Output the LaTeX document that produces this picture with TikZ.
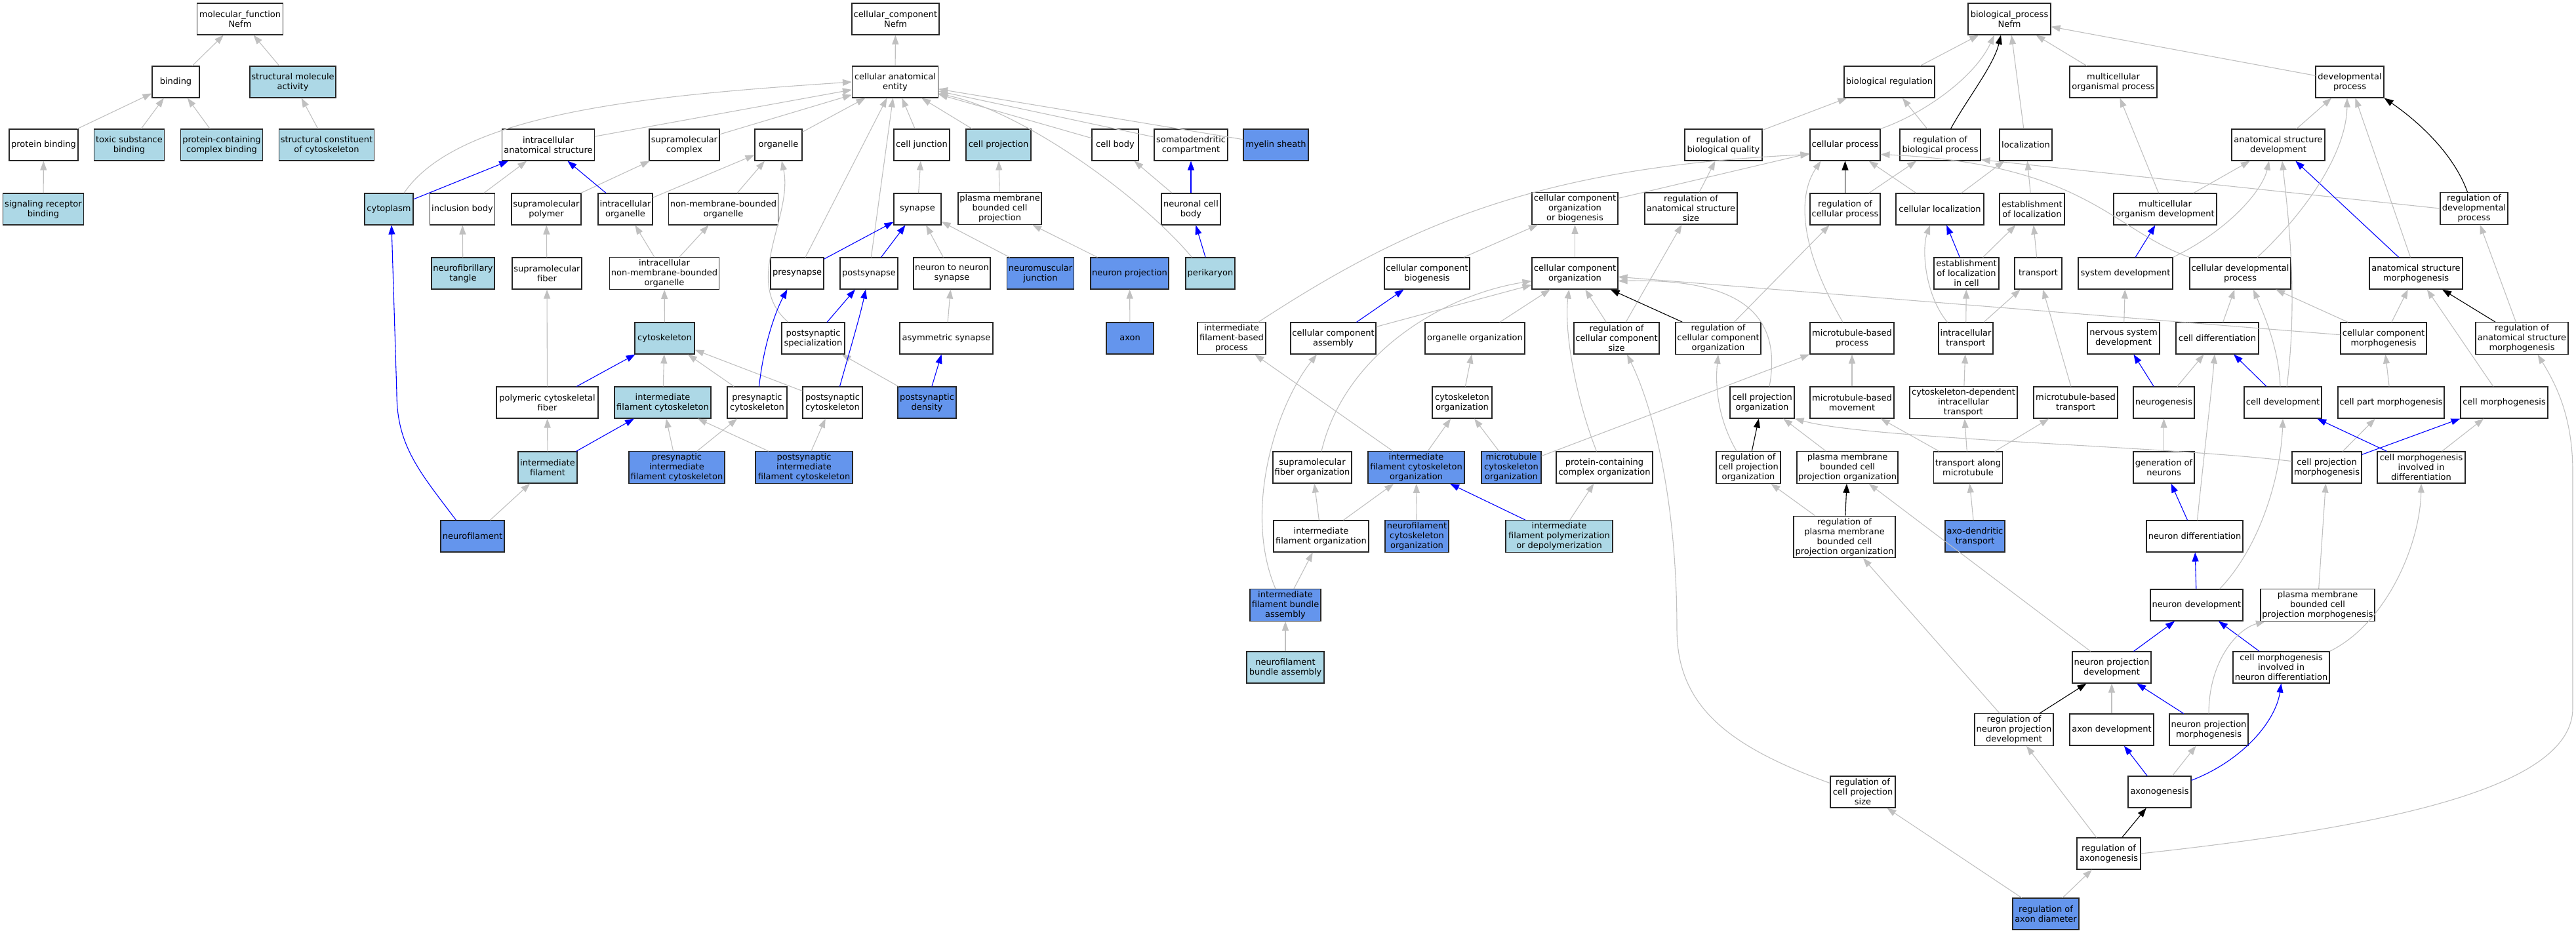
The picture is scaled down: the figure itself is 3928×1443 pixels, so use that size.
\documentclass[tikz,border=0pt]{standalone}
\usepackage{fontspec}
\setmainfont{DejaVu Sans}
\usetikzlibrary{arrows.meta}
\definecolor{hitblue}{RGB}{173,216,230}
\definecolor{seedblue}{RGB}{100,149,237}
\definecolor{linkgray}{RGB}{192,192,192}

\begin{document}
\begin{tikzpicture}[
	x=1pt, y=-1pt,
	term/.style={
		rectangle,
		draw=black!85,
		line width=1.1pt,
		fill=white,
		align=center,
		minimum height=48pt,
		inner xsep=2pt,
		inner ysep=3pt,
		font=\fontsize{13pt}{15pt}\selectfont
	},
	hit/.style={term, fill=hitblue},
	seed/.style={term, fill=seedblue},
	wd/.style={minimum width=#1},
	isa/.style={color=linkgray, line width=1.1pt, -{Triangle[length=14pt, width=10pt]}},
	part/.style={isa, color=blue},
	reg/.style={isa, color=black}]

\useasboundingbox (0,0) rectangle (3928,1443);

% molecular function
\node[term, wd=131] (mf) at (366,29) {molecular\_function\\Nefm};
\node[term, wd=72] (bind) at (268,125) {binding};
\node[hit, wd=131] (sma) at (446.5,125) {structural molecule\\activity};
\node[term, wd=105] (pb) at (66.5,221) {protein binding};
\node[hit, wd=107] (tsb) at (197,221) {toxic substance\\binding};
\node[hit, wd=125] (pccb) at (338,221) {protein-containing\\complex binding};
\node[hit, wd=145] (scc) at (498,221) {structural constituent\\of cytoskeleton};
\node[hit, wd=123] (srb) at (66,319) {signaling receptor\\binding};

% cellular component
\node[term, wd=133] (cc) at (1365.5,29) {cellular\_component\\Nefm};
\node[term, wd=131] (cae) at (1365,125) {cellular anatomical\\entity};
\node[term, wd=141] (ias) at (836,221) {intracellular\\anatomical structure};
\node[term, wd=107] (smc) at (1043.5,221) {supramolecular\\complex};
\node[term, wd=72] (org) at (1187,221) {organelle};
\node[term, wd=85] (cj) at (1405.5,221) {cell junction};
\node[hit, wd=99] (cp) at (1522.5,221) {cell projection};
\node[term, wd=71] (cb) at (1700.5,221) {cell body};
\node[term, wd=112] (sdc) at (1816,221) {somatodendritic\\compartment};
\node[seed, wd=99] (ms) at (1945.5,221) {myelin sheath};
\node[hit, wd=74] (cyt) at (593,319) {cytoplasm};
\node[term, wd=99] (ib) at (705,319) {inclusion body};
\node[term, wd=106] (smp) at (833,319) {supramolecular\\polymer};
\node[term, wd=83] (io) at (953.5,319) {intracellular\\organelle};
\node[term, wd=166] (nmbo) at (1103,319) {non-membrane-bounded\\organelle};
\node[term, wd=72] (syn) at (1399,319) {synapse};
\node[term, wd=127] (pmbcp) at (1524.5,318) {plasma membrane\\bounded cell\\projection};
\node[term, wd=90] (ncb) at (1816,319) {neuronal cell\\body};
\node[hit, wd=96] (nft) at (706,417) {neurofibrillary\\tangle};
\node[term, wd=106] (smf) at (834,417) {supramolecular\\fiber};
\node[term, wd=166] (inmbo) at (1013,417) {intracellular\\non-membrane-bounded\\organelle};
\node[term, wd=81] (pre) at (1215.5,417) {presynapse};
\node[term, wd=88] (post) at (1325,417) {postsynapse};
\node[term, wd=117] (nns) at (1451.5,417) {neuron to neuron\\synapse};
\node[seed, wd=101] (nmj) at (1586.5,417) {neuromuscular\\junction};
\node[seed, wd=119] (np) at (1722.5,417) {neuron projection};
\node[hit, wd=75] (peri) at (1845.5,417) {perikaryon};
\node[hit, wd=91] (csk) at (1013.5,516) {cytoskeleton};
\node[term, wd=96] (pss) at (1240,516) {postsynaptic\\specialization};
\node[term, wd=142] (asyn) at (1443,516) {asymmetric synapse};
\node[seed, wd=72] (axon) at (1723,516) {axon};
\node[term, wd=155] (pcf) at (834.5,614) {polymeric cytoskeletal\\fiber};
\node[hit, wd=147] (ifc) at (1010.5,614) {intermediate\\filament cytoskeleton};
\node[term, wd=91] (prec) at (1154.5,614) {presynaptic\\cytoskeleton};
\node[term, wd=91] (postc) at (1269.5,614) {postsynaptic\\cytoskeleton};
\node[seed, wd=89] (psd) at (1413.5,614) {postsynaptic\\density};
\node[hit, wd=90] (ifil) at (835,713) {intermediate\\filament};
\node[seed, wd=146] (preifc) at (1032,713) {presynaptic\\intermediate\\filament cytoskeleton};
\node[seed, wd=148] (postifc) at (1226,713) {postsynaptic\\intermediate\\filament cytoskeleton};
\node[seed, wd=97] (nf) at (720.5,818) {neurofilament};

% biological process
\node[term, wd=126] (bp) at (3064,29) {biological\_process\\Nefm};
\node[term, wd=138] (breg) at (2881,125) {biological regulation};
\node[term, wd=133] (mop) at (3222.5,125) {multicellular\\organismal process};
\node[term, wd=104] (dp) at (3583,125) {developmental\\process};
\node[term, wd=118] (rbq) at (2628,221) {regulation of\\biological quality};
\node[term, wd=107] (cpr) at (2813.5,221) {cellular process};
\node[term, wd=123] (rbp) at (2958.5,221) {regulation of\\biological process};
\node[term, wd=80] (loc) at (3089,221) {localization};
\node[term, wd=142] (asd) at (3474,221) {anatomical structure\\development};
\node[term, wd=131] (ccob) at (2401.5,318) {cellular component\\organization\\or biogenesis};
\node[term, wd=141] (rass) at (2578.5,318) {regulation of\\anatomical structure\\size};
\node[term, wd=107] (rcp) at (2813.5,319) {regulation of\\cellular process};
\node[term, wd=134] (cloc) at (2958,319) {cellular localization};
\node[term, wd=99] (eloc) at (3098.5,319) {establishment\\of localization};
\node[term, wd=157] (mod) at (3301.5,319) {multicellular\\organism development};
\node[term, wd=103] (rdp) at (3772.5,318) {regulation of\\developmental\\process};
\node[term, wd=130] (ccb) at (2176,417) {cellular component\\biogenesis};
\node[term, wd=131] (cco) at (2401.5,417) {cellular component\\organization};
\node[term, wd=99] (elc) at (2998.5,417) {establishment\\of localization\\in cell};
\node[term, wd=72] (trans) at (3108,417) {transport};
\node[term, wd=144] (sd) at (3241,417) {system development};
\node[term, wd=154] (cdp) at (3416,417) {cellular developmental\\process};
\node[term, wd=142] (asm) at (3684,417) {anatomical structure\\morphogenesis};
\node[term, wd=104] (ifbp) at (1878,516) {intermediate\\filament-based\\process};
\node[term, wd=130] (cca) at (2033,516) {cellular component\\assembly};
\node[term, wd=152] (oo) at (2249,516) {organelle organization};
\node[term, wd=130] (rccs) at (2465,516) {regulation of\\cellular component\\size};
\node[term, wd=130] (rcco) at (2620,516) {regulation of\\cellular component\\organization};
\node[term, wd=128] (mbp) at (2824,516) {microtubule-based\\process};
\node[term, wd=83] (itr) at (2997.5,516) {intracellular\\transport};
\node[term, wd=110] (nsd) at (3238,516) {nervous system\\development};
\node[term, wd=126] (cdiff) at (3381,516) {cell differentiation};
\node[term, wd=131] (ccm) at (3634.5,516) {cellular component\\morphogenesis};
\node[term, wd=141] (rasm) at (3845.5,516) {regulation of\\anatomical structure\\morphogenesis};
\node[term, wd=91] (co) at (2229.5,614) {cytoskeleton\\organization};
\node[term, wd=98] (cpo) at (2687,614) {cell projection\\organization};
\node[term, wd=128] (mbm) at (2824,614) {microtubule-based\\movement};
\node[term, wd=164] (cdit) at (2994,614) {cytoskeleton-dependent\\intracellular\\transport};
\node[term, wd=128] (mbt) at (3165,614) {microtubule-based\\transport};
\node[term, wd=93] (ngen) at (3299.5,614) {neurogenesis};
\node[term, wd=118] (cdev) at (3481,614) {cell development};
\node[term, wd=162] (cpm) at (3646,614) {cell part morphogenesis};
\node[term, wd=133] (cmorph) at (3818.5,614) {cell morphogenesis};
\node[term, wd=120] (sfo) at (2001,713) {supramolecular\\fiber organization};
\node[seed, wd=147] (ifco) at (2159.5,713) {intermediate\\filament cytoskeleton\\organization};
\node[seed, wd=91] (mco) at (2304.5,713) {microtubule\\cytoskeleton\\organization};
\node[term, wd=147] (pcco) at (2446.5,713) {protein-containing\\complex organization};
\node[term, wd=98] (rcpo) at (2666,713) {regulation of\\cell projection\\organization};
\node[term, wd=154] (pmbcpo) at (2817,713) {plasma membrane\\bounded cell\\projection organization};
\node[term, wd=104] (tam) at (3001,713) {transport along\\microtubule};
\node[term, wd=93] (gon) at (3299.5,713) {generation of\\neurons};
\node[term, wd=106] (cprm) at (3548,713) {cell projection\\morphogenesis};
\node[term, wd=134] (cmid) at (3692,713) {cell morphogenesis\\involved in\\differentiation};
\node[term, wd=145] (ifo) at (2014.5,818) {intermediate\\filament organization};
\node[seed, wd=97] (nfco) at (2160.5,818) {neurofilament\\cytoskeleton\\organization};
\node[hit, wd=163] (ifpd) at (2377.5,818) {intermediate\\filament polymerization\\or depolymerization};
\node[term, wd=155] (rpmbcpo) at (2812.5,819) {regulation of\\plasma membrane\\bounded cell\\projection organization};
\node[seed, wd=91] (adt) at (3011.5,818) {axo-dendritic\\transport};
\node[term, wd=147] (nd) at (3346.5,818) {neuron differentiation};
\node[seed, wd=108] (ifba) at (1960,923) {intermediate\\filament bundle\\assembly};
\node[term, wd=141] (ndev) at (3349.5,923) {neuron development};
\node[term, wd=174] (pmbcpm) at (3534,923) {plasma membrane\\bounded cell\\projection morphogenesis};
\node[hit, wd=118] (nfba) at (1960,1018) {neurofilament\\bundle assembly};
\node[term, wd=120] (npd) at (3220,1018) {neuron projection\\development};
\node[term, wd=147] (cmind) at (3478.5,1018) {cell morphogenesis\\involved in\\neuron differentiation};
\node[term, wd=120] (rnpd) at (3071,1113) {regulation of\\neuron projection\\development};
\node[term, wd=128] (ad) at (3220,1113) {axon development};
\node[term, wd=120] (npm) at (3368,1113) {neuron projection\\morphogenesis};
\node[term, wd=99] (rcps) at (2840.5,1208) {regulation of\\cell projection\\size};
\node[term, wd=96] (axg) at (3293,1208) {axonogenesis};
\node[term, wd=97] (rax) at (3215.5,1302) {regulation of\\axonogenesis};
\node[seed, wd=101] (rad) at (3119.5,1394) {regulation of\\axon diameter};

\path[isa]
	(bind) edge (mf)
	(sma) edge (mf)
	(pb) edge (bind)
	(tsb) edge (bind)
	(pccb) edge (bind)
	(scc) edge (sma)
	(srb) edge (pb)
	(cae) edge (cc)
	(ias) edge (cae)
	(smc) edge (cae)
	(org) edge (cae)
	(cj) edge (cae)
	(cp) edge (cae)
	(cb) edge (cae)
	(sdc) edge (cae)
	(ms) edge (cae)
	(pre) edge (cae)
	(post) edge (cae)
	(ib) edge (ias)
	(smp) edge (smc)
	(io) edge (org)
	(nft) edge (ib)
	(smf) edge (smp)
	(inmbo) edge (io)
	(inmbo) edge (nmbo)
	(nmbo) edge (org)
	(csk) edge (inmbo)
	(pcf) edge (smf)
	(ifc) edge (csk)
	(prec) edge (csk)
	(postc) edge (csk)
	(ifil) edge (pcf)
	(nf) edge (ifil)
	(preifc) edge (ifc)
	(preifc) edge (prec)
	(postifc) edge (ifc)
	(postifc) edge (postc)
	(nns) edge (syn)
	(nmj) edge (syn)
	(syn) edge (cj)
	(asyn) edge (nns)
	(psd) edge (pss)
	(pmbcp) edge (cp)
	(np) edge (pmbcp)
	(ncb) edge (cb)
	(axon) edge (np);

\path[part]
	(cyt) edge (ias)
	(io) edge (ias)
	(pcf) edge (csk)
	(ifil) edge (ifc)
	(pss) edge (post)
	(pre) edge (syn)
	(post) edge (syn)
	(psd) edge (asyn)
	(ncb) edge (sdc)
	(peri) edge (ncb);

\draw[isa] ([xshift=23pt]cyt.north) .. controls (700,170) and (1000,145) .. (cae.west);
\draw[isa] ([xshift=-28pt]peri.north) .. controls (1740,300) and (1560,170) .. (cae.-15);
\draw[isa] ([xshift=-38pt]pss.north) .. controls (1130,430) and (1210,330) .. ([xshift=5pt]org.south);
\draw[part] ([xshift=-25pt]nf.north) .. controls (640,720) and (605,680) .. (605,600) -- ([xshift=4pt]cyt.south);
\draw[part] ([xshift=3pt]prec.north) .. controls (1165,520) and (1185,470) .. ([xshift=-15pt]pre.south);
\draw[part] ([xshift=11pt]postc.north) .. controls (1300,520) and (1312,480) .. ([xshift=-5pt]post.south);

\path[isa]
	(breg) edge (bp)
	(mop) edge (bp)
	(dp) edge (bp)
	(loc) edge (bp)
	(rbp) edge (breg)
	(rbq) edge (breg)
	(rcp) edge (rbp)
	(cloc) edge (cpr)
	(cloc) edge (loc)
	(eloc) edge (loc)
	(rass) edge (rbq)
	(ccob) edge (cpr)
	(ccb) edge (ccob)
	(cco) edge (ccob)
	(cca) edge (cco)
	(oo) edge (cco)
	(rccs) edge (cco)
	(rccs) edge (rass)
	(rcco) edge (rcp)
	(co) edge (oo)
	(mco) edge (co)
	(ifco) edge (co)
	(mco) edge (mbp)
	(ifco) edge (ifbp)
	(ifo) edge (sfo)
	(ifo) edge (ifco)
	(nfco) edge (ifco)
	(ifpd) edge (pcco)
	(ifba) edge (ifo)
	(nfba) edge (ifba)
	(rad) edge (rcps)
	(rad) edge (rax)
	(rax) edge (rnpd)
	(pmbcpo) edge (cpo)
	(rpmbcpo) edge (rcpo)
	(npd) edge (pmbcpo)
	(rnpd) edge (rpmbcpo)
	(mbm) edge (mbp)
	(tam) edge (mbm)
	(tam) edge (cdit)
	(tam) edge (mbt)
	(adt) edge (tam)
	(elc) edge (eloc)
	(trans) edge (eloc)
	(itr) edge (elc)
	(itr) edge (trans)
	(cdit) edge (itr)
	(mbt) edge (trans)
	(mod) edge (mop)
	(mod) edge (asd)
	(asd) edge (dp)
	(asm) edge (dp)
	(nsd) edge (sd)
	(ngen) edge (cdiff)
	(gon) edge (ngen)
	(cdiff) edge (cdp)
	(ccm) edge (cdp)
	(ccm) edge (asm)
	(cmorph) edge (asm)
	(rasm) edge (rdp)
	(ccm) edge (cco)
	(cpm) edge (ccm)
	(cprm) edge (cpm)
	(cmid) edge (cmorph)
	(pmbcpm) edge (cprm)
	(ad) edge (npd)
	(axg) edge (npm)
	(rdp.west) edge (rbp.-20);

\path[part]
	(cca) edge (ccb)
	(ifpd) edge (ifco)
	(elc) edge (cloc)
	(sd) edge (mod)
	(asm) edge (asd)
	(ngen) edge (nsd)
	(nd) edge (gon)
	(cdev) edge (cdiff)
	(cprm) edge (cmorph)
	(cmid) edge (cdev)
	(ndev) edge (nd)
	(npd) edge (ndev)
	(cmind) edge (ndev)
	(npm) edge (npd)
	(axg) edge (ad);

\path[reg]
	(rcp) edge (cpr)
	(rcco) edge (cco)
	(rcpo) edge (cpo)
	(rpmbcpo) edge (pmbcpo)
	(rasm) edge (asm)
	(rnpd) edge (npd)
	(rax) edge (axg);

\draw[isa] ([xshift=41pt]ifbp.north) .. controls (2150,340) and (2350,255) .. (cpr.195);
\draw[isa] ([xshift=14pt]sfo.north) .. controls (2050,540) and (2200,450) .. (cco.190);
\draw[isa] ([xshift=-15pt]ifba.north) .. controls (1895,780) and (1945,620) .. ([xshift=-25pt]cca.south);
\draw[isa] ([xshift=-12pt]pcco.north) .. controls (2400,600) and (2385,500) .. ([xshift=-9pt]cco.south);
\draw[isa] ([xshift=11pt]cpo.north) .. controls (2720,470) and (2640,425) .. (cco.-10);
\draw[isa] ([xshift=-14pt]mbp.north) .. controls (2745,380) and (2740,300) .. ([xshift=-37pt]cpr.south);
\draw[isa] ([xshift=-18pt]rcpo.north) .. controls (2620,640) and (2615,590) .. (rcco.south);
\draw[isa] (rcps.165) .. controls (2640,1140) and (2557,1080) .. (2557,960) .. controls (2557,760) and (2520,620) .. ([xshift=16pt]rccs.south);
\draw[isa] ([xshift=-28pt]itr.north) .. controls (2935,450) and (2930,380) .. ([xshift=-15pt]cloc.south);
\draw[isa] (cpr.north east) .. controls (2930,175) and (3010,120) .. ([xshift=-23pt]bp.south);
\draw[reg] ([xshift=16pt]rbp.north) .. controls (3000,150) and (3040,100) .. ([xshift=-13pt]bp.south);
\draw[isa] (cdp.north west) .. controls (3220,350) and (3180,250) .. (cpr.-15);
\draw[isa] (cprm.170) .. controls (3300,680) and (2850,670) .. (cpo.south east);
\draw[isa] ([xshift=35pt]ndev.north) .. controls (3450,830) and (3478,720) .. (cdev.south);
\draw[isa] ([xshift=4pt]nd.north) .. controls (3360,700) and (3372,600) .. ([xshift=-4pt]cdiff.south);
\draw[isa] ([xshift=-4pt]cdev.north) .. controls (3475,530) and (3450,475) .. ([xshift=20pt]cdp.south);
\draw[isa] ([xshift=6pt]cdev.north) .. controls (3505,450) and (3488,320) .. ([xshift=6pt]asd.south);
\draw[isa] (sd.north east) .. controls (3400,350) and (3450,290) .. ([xshift=-14pt]asd.south);
\draw[isa] ([xshift=26pt]cdp.north) .. controls (3520,320) and (3578,230) .. ([xshift=-4pt]dp.south);
\draw[reg] ([xshift=-10pt]rdp.north) .. controls (3740,230) and (3680,180) .. (dp.south east);
\draw[isa] (npm.north) .. controls (3368,1010) and (3410,960) .. ([xshift=-80pt]pmbcpm.south);
\draw[isa] (cmind.north east) .. controls (3640,950) and (3690,830) .. (cmid.south);
\draw[part] (axg.20) .. controls (3420,1160) and (3470,1100) .. (cmind.south);
\draw[isa] (rax.east) .. controls (3650,1260) and (3923,1200) .. (3923,1080) -- (3923,720) .. controls (3923,640) and (3900,590) .. ([xshift=24pt]rasm.south);

\end{tikzpicture}
\end{document}
